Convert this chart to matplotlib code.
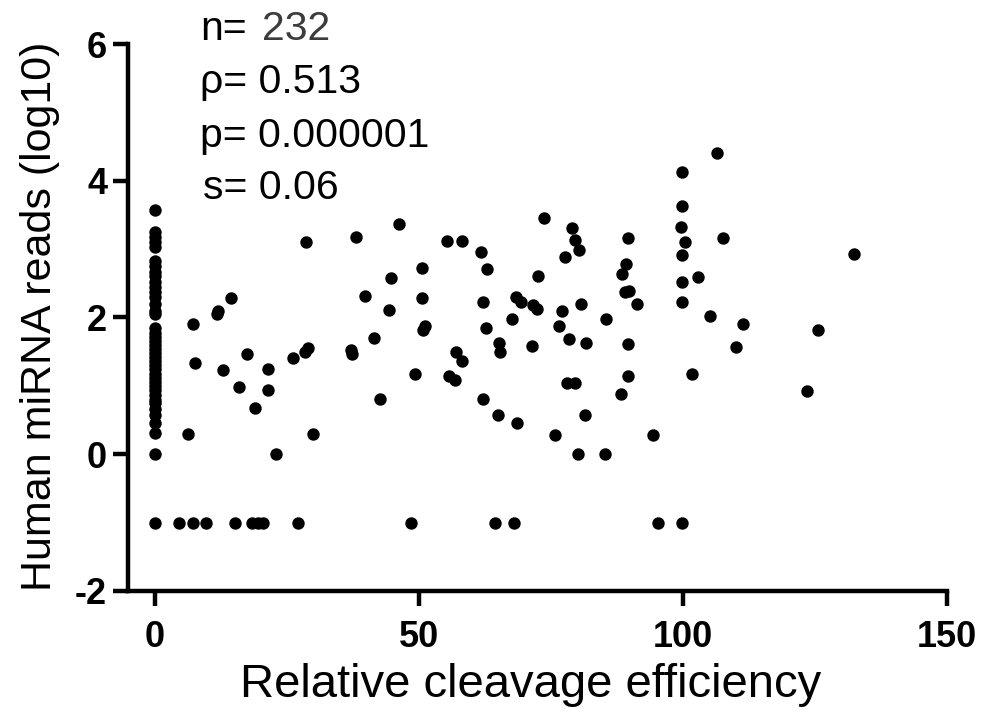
import matplotlib
matplotlib.use('Agg')
import matplotlib.pyplot as plt

plt.rcParams['font.family'] = ['Liberation Sans', 'DejaVu Sans']
plt.rcParams['axes.unicode_minus'] = False

# miRNA reads for the targets with zero cleavage (all at x = 0)
zero_reads = [3.57, 3.25, 3.18, 3.1, 3.03, 2.83, 2.75, 2.67, 2.6, 2.52, 2.45,
              2.38, 2.3, 2.2, 2.1, 2.05, 1.85, 1.78, 1.72, 1.66, 1.6, 1.54,
              1.48, 1.42, 1.36, 1.3, 1.24, 1.18, 1.12, 1.06, 1.0, 0.94, 0.87,
              0.8, 0.75, 0.66, 0.57, 0.45, 0.31, 0.0, -1.0]

# the rest of the targets
cleavage = [7.3, 7.6, 6.2, 11.7, 11.9, 14.5, 12.9, 17.4, 15.9, 21.4, 21.5, 19.0,
            23.0, 26.2, 28.5, 29.0, 28.7, 30.0, 37.2, 37.3, 38.1, 39.7, 41.5,
            42.6, 44.4, 44.7, 46.2, 49.3, 50.5, 50.6, 51.1, 50.7, 55.4, 58.1,
            55.6, 56.9, 57.1, 58.1, 61.7, 62.9, 62.2, 62.7, 62.2, 65.2, 65.3,
            65.0, 67.6, 68.3, 69.4, 71.6, 72.3, 71.5, 72.6, 68.5, 73.7, 75.8,
            76.6, 77.0, 77.7, 78.0, 78.5, 78.9, 79.5, 79.5, 80.4, 80.6, 80.2,
            81.4, 81.6, 85.2, 85.5, 88.3, 88.4, 89.2, 89.0, 89.8, 89.6, 89.6,
            89.5, 91.3, 94.4, 99.9, 99.9, 99.7, 100.4, 99.9, 99.9, 99.9, 101.8,
            102.9, 105.2, 106.4, 107.6, 110.1, 111.3, 123.5, 125.6, 132.4,
            4.6, 7.2, 9.7, 15.2, 18.3, 19.6, 20.5, 27.1, 48.4, 64.4, 68.0,
            95.2, 99.9]
reads = [1.90, 1.33, 0.29, 2.05, 2.10, 2.28, 1.23, 1.47, 0.98, 1.25, 0.94, 0.68,
         0.0, 1.41, 1.50, 1.55, 3.10, 0.29, 1.52, 1.46, 3.18, 2.32, 1.70,
         0.81, 2.11, 2.58, 3.37, 1.18, 2.72, 2.29, 1.87, 1.82, 3.12, 3.12,
         1.15, 1.08, 1.50, 1.36, 2.96, 2.71, 2.22, 1.85, 0.81, 1.63, 1.50,
         0.58, 1.98, 2.30, 2.22, 2.18, 2.12, 1.59, 2.60, 0.46, 3.45, 0.28,
         1.87, 2.09, 2.88, 1.04, 1.68, 3.31, 3.14, 1.04, 2.98, 2.20, 0.0,
         0.58, 1.63, 0.0, 1.98, 0.88, 2.64, 2.78, 2.38, 2.39, 3.17, 1.61,
         1.14, 2.20, 0.28, 4.13, 3.63, 3.32, 3.11, 2.92, 2.52, 2.22, 1.18,
         2.59, 2.02, 4.40, 3.17, 1.57, 1.90, 0.93, 1.81, 2.93,
         -1.0, -1.0, -1.0, -1.0, -1.0, -1.0, -1.0, -1.0, -1.0, -1.0, -1.0,
         -1.0, -1.0]

xticks = [0, 50, 100, 150]
yticks = [-2, 0, 2, 4, 6]

x = [0] * len(zero_reads) + cleavage
y = zero_reads + reads

W, H = 986, 713
fig = plt.figure(figsize=(W / 100, H / 100), dpi=100)
ax = fig.add_axes([128 / W, 1 - 591 / H, (947 - 128) / W, (591 - 44) / H])

ax.scatter(x, y, s=80, color='black', linewidths=0, zorder=3, clip_on=False)

ax.set_xlim(-5.1, 150)
ax.set_ylim(-2, 6)
ax.set_xticks(xticks)
ax.set_yticks(yticks)
ax.set_xticklabels([str(t) for t in xticks], fontsize=26, fontweight='bold')
ax.set_yticklabels([str(t) for t in yticks], fontsize=26, fontweight='bold')

for side in ['top', 'right']:
    ax.spines[side].set_visible(False)
for side in ['left', 'bottom']:
    ax.spines[side].set_linewidth(3.2)
ax.tick_params(axis='both', width=3.2, length=11)
ax.tick_params(axis='x', pad=10)
ax.tick_params(axis='y', pad=4)

fig.text(531 / W, 1 - 697 / H, 'Relative cleavage efficiency', fontsize=34,
         ha='center', va='baseline')
fig.text(51 / W, 1 - 316 / H, 'Human miRNA reads (log10)', fontsize=31,
         rotation=90, rotation_mode='anchor', ha='center', va='baseline')

# statistics block
fs = 29.5
fig.text(200 / W, 1 - 40 / H, 'n=', fontsize=fs, ha='left', va='baseline')
fig.text(262 / W, 1 - 40 / H, '232', fontsize=fs, color='#3c3c3c',
         ha='left', va='baseline')
fig.text(200 / W, 1 - 93 / H, 'ρ= 0.513', fontsize=fs, ha='left', va='baseline')
fig.text(200 / W, 1 - 147 / H, 'p= 0.000001', fontsize=fs, ha='left', va='baseline')
fig.text(203 / W, 1 - 199 / H, 's= 0.06', fontsize=fs, ha='left', va='baseline')

fig.savefig('out.png', dpi=100)
